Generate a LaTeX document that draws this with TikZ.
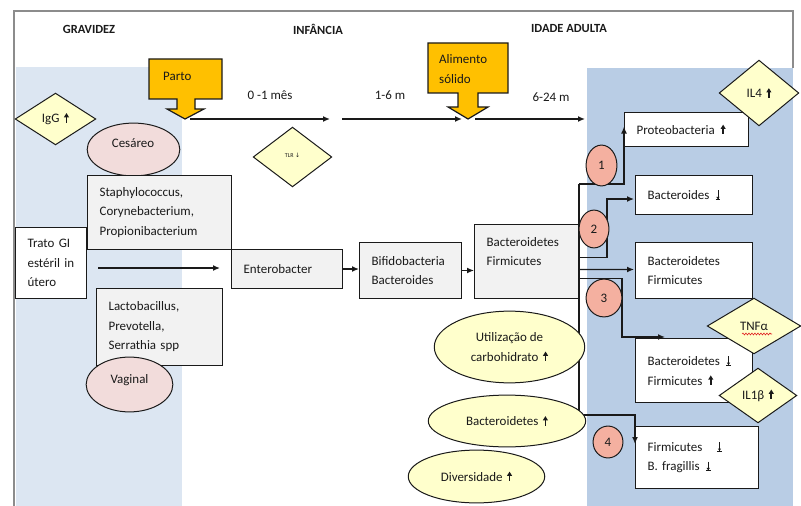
\documentclass[tikz,border=0pt]{standalone}
\usepackage{fontspec}
\setmainfont{Carlito}
\newfontfamily\symfont{DejaVu Sans}
\usetikzlibrary{arrows.meta,shapes.geometric,calc,decorations.pathmorphing}

\definecolor{lblue}{HTML}{DCE6F2}
\definecolor{rblue}{HTML}{B9CDE5}
\definecolor{orng}{HTML}{FFC000}
\definecolor{pyel}{HTML}{FFFFCC}
\definecolor{pinkish}{HTML}{F2DCDB}
\definecolor{salmon}{HTML}{F4B0A0}
\definecolor{lgray}{HTML}{F2F2F2}
\definecolor{framegray}{HTML}{8C8C8C}
\definecolor{ink}{HTML}{1A1A1A}
\definecolor{spellred}{HTML}{E02020}

% text sizes
\newcommand{\txtsz}{\fontsize{13}{19.5}\selectfont}
\newcommand{\hdsz}{\fontsize{12.5}{15}\selectfont\bfseries}
% up / down markers, drawn as small glyphs
\newcommand{\upa}{\hspace{1.5bp}\tikz[baseline=0pt,x=1bp,y=1bp]{%
  \fill[ink] (-0.9,0) rectangle (0.9,6);
  \fill[ink] (-2.6,5.4) -- (2.6,5.4) -- (0,9.6) -- cycle;}}
\newcommand{\dna}{\hspace{1.5bp}\tikz[baseline=0pt,x=1bp,y=1bp]{%
  \draw[ink, line width=0.8bp] (0,9.4) -- (0,1);
  \draw[ink, line width=0.8bp] (-2.3,0.4) -- (2.3,0.4);
  \fill[ink] (-1.6,3) -- (1.6,3) -- (0,0.6) -- cycle;}}

\begin{document}
\begin{tikzpicture}[x=1bp,y=-1bp,
  txt/.style={font=\txtsz, text=ink, inner sep=0pt},
  head/.style={font=\hdsz, text=ink, inner sep=0pt},
  box/.style={draw=ink, line width=1.2bp, rectangle, anchor=north west,
    align=left, inner xsep=12bp, inner ysep=0pt, font=\txtsz, text=ink},
  gbox/.style={box, fill=lgray},
  wbox/.style={box, fill=white},
  dia/.style={diamond, draw=ink, fill=pyel, line width=1bp, inner sep=0pt,
    font=\txtsz, text=ink},
  oval/.style={ellipse, draw=ink, line width=1bp, inner sep=0pt,
    font=\txtsz, text=ink, align=center},
  num/.style={oval, fill=salmon},
  callout/.style={draw=ink, fill=orng, line width=1.2bp, line join=miter},
  lnk/.style={draw=ink, line width=1.3bp},
  arr/.style={lnk, -{Latex[length=7bp,width=6bp]}}
]
\useasboundingbox (0,0) rectangle (801,506);

% background regions and frame
\fill[lblue] (16,67) rectangle (182,506);
\fill[rblue] (587,68) rectangle (793,506);
\draw[framegray, line width=1.2bp] (14,506) -- (14,11) -- (793,11) -- (793,68);

% period headings
\node[head] (hGrav) at (89,29) {GRAVIDEZ};
\node[head] (hInf)  at (318,29) {INFÂNCIA};
\node[head] (hAdu)  at (569,29) {IDADE ADULTA};

% event callouts on the timeline
\draw[callout] (149,59) -- (222,59) -- (222,99) -- (195,99) -- (195,109)
  -- (204,109) -- (185,119) -- (167,109) -- (177,109) -- (177,99)
  -- (149,99) -- cycle;
\coordinate (partoTip) at (185,119);
\node[txt, anchor=west] (parto) at (163,76) {Parto};

\draw[callout] (428,43) -- (508,43) -- (508,93) -- (478,93) -- (478,107)
  -- (488,107) -- (468,119) -- (448,107) -- (458,107) -- (458,93)
  -- (428,93) -- cycle;
\coordinate (alimTip) at (468,119);
\node[txt, anchor=west, align=left] (alim) at (439,69) {Alimento\\sólido};

% timeline
\coordinate (m1) at (330,119);
\coordinate (m2) at (342,119);
\coordinate (tEnd) at (585,119);
\draw[arr] ($(partoTip)+(5,0)$) -- (m1);
\draw[arr] (m2) -- ($(alimTip)+(-6,0)$);
\draw[arr] ($(alimTip)+(7,0)$) -- (tEnd);
\node[txt] (l01) at (270,95) {0 -1 mês};
\node[txt] (l16) at (390,95) {1-6 m};
\node[txt] (l624) at (551,97) {6-24 m};

% diamonds
\node[dia, minimum width=81, minimum height=52] (igg) at (55.5,119) {IgG \upa};
\node[dia, minimum width=79, minimum height=60, font=\fontsize{6}{6}\selectfont]
  (tlr) at (292.5,157) {\raisebox{4bp}{TLR {\symfont↓}}};

% pregnancy / birth
\node[oval, fill=pinkish, minimum width=93, minimum height=53] (ces) at (133.5,149.5) {};
\node[txt] (cesT) at (133,143) {Cesáreo};

\node[gbox, text width=120, minimum height=74] (staph) at (87,175)
  {Staphylococcus,\\Corynebacterium,\\Propionibacterium};
\node[wbox, text width=47, minimum height=71] (trato) at (15,227)
  {Trato~GI\\estéril~in\\útero};
\node[gbox, text width=87, minimum height=39] (entero) at (231,249) {Enterobacter};
\node[gbox, text width=78, minimum height=56] (bifido) at (359,242)
  {Bifidobacteria\\Bacteroides};
\node[gbox, text width=81, minimum height=74] (bf) at (474,224)
  {Bacteroidetes\\Firmicutes\\~};
\node[gbox, text width=102, minimum height=77] (lacto) at (96,288)
  {Lactobacillus,\\Prevotella,\\Serrathia spp};

\node[oval, fill=pinkish, minimum width=87, minimum height=55] (vag) at (129.5,384.5) {};
\node[txt] (vagT) at (129.5,380) {Vaginal};

% early colonisation sequence
\draw[arr] ($(trato.east |- entero.west)+(11,-1)$) -- ($(entero.west)+(-11,-1)$);
\draw[arr] (entero.east) -- (entero.east -| bifido.west);
\draw[arr] (bifido.east) -- (bifido.east -| bf.west);

% adult outcomes
\node[wbox, text width=100, minimum height=34] (proteo) at (624,112) {Proteobacteria \upa};
\node[wbox, text width=93, minimum height=39] (bact) at (635,175) {Bacteroides \dna};
\node[wbox, text width=93, minimum height=56] (bf2) at (635,242) {Bacteroidetes\\Firmicutes};
\node[wbox, text width=93, minimum height=64] (b3) at (635,338)
  {Bacteroidetes \dna\\Firmicutes \upa};
\node[wbox, text width=99, minimum height=62] (b4) at (635,426)
  {Firmicutes~~~\dna\\B.~fragillis \dna};

\node[dia, minimum width=80, minimum height=66] (il4) at (759,93) {IL4 \upa};
\node[dia, minimum width=94, minimum height=56] (tnf) at (754,326) {TNFα};
\draw[spellred, line width=0.6bp, decorate,
  decoration={snake, amplitude=0.9bp, segment length=3bp}] (742,334) -- (772,334);
\node[dia, minimum width=78, minimum height=55] (il1) at (758,395.5) {IL1β \upa};

% branching connectors from the adult community
\coordinate (t1) at (579,184);
\coordinate (t4) at (579,415);
\draw[lnk] (t1) -- (t4);
\draw[arr] (t1) -| ($(proteo.west)+(0,-3)$);
\draw[arr] ($(bf.east)+(0,-4)$) -- ++(27,0) |- ($(bact.west)+(-1,4)$);
\draw[arr] ($(bf.east)+(0,8)$) -- ($(bf2.west)+(-1,-1)$);
\draw[arr] ($(bf.east)+(0,17)$) -- ++(42,0) |- ($(b3.north west)+(30,-1)$);
\draw[arr] (t4) -| ($(b4.north west)+(0,18)$);

% numbered branch markers
\node[num, minimum width=31, minimum height=41] (n1) at (601.5,165.5) {1};
\node[num, minimum width=30, minimum height=38] (n2) at (594,229) {2};
\node[num, minimum width=36, minimum height=38] (n3) at (604,298) {3};
\node[num, minimum width=30, minimum height=32] (n4) at (608,442) {4};

% associated effects
\node[oval, fill=pyel, minimum width=151, minimum height=72] (carb) at (509.5,347)
  {Utilização de\\carbohidrato \upa};
\node[oval, fill=pyel, minimum width=158, minimum height=52] (bup) at (507,421)
  {Bacteroidetes \upa};
\node[oval, fill=pyel, minimum width=137, minimum height=53] (div) at (476.5,476.5)
  {Diversidade \upa};
\end{tikzpicture}
\end{document}
